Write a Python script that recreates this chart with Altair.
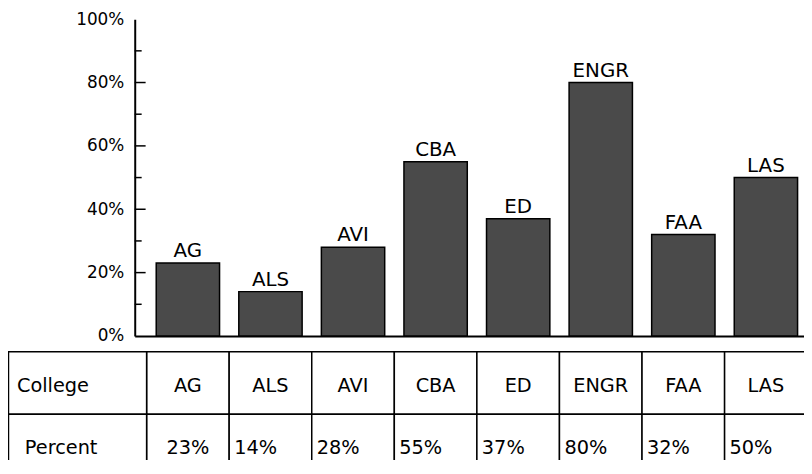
import altair as alt
import pandas as pd

# ---- data ----
colleges = ["AG", "ALS", "AVI", "CBA", "ED", "ENGR", "FAA", "LAS"]
percent = [23, 14, 28, 55, 37, 80, 32, 50]
row_names = ["College", "Percent"]
y_label_values = [0, 20, 40, 60, 80, 100]
major_ticks = [20, 40, 60, 80]
minor_ticks = [10, 30, 50, 70, 90]

FONT = "DejaVu Sans"

bars_df = pd.DataFrame({"college": colleges, "pct": percent})
bars_df["pct_label"] = [f"{p}%" for p in percent]
hdr_df = pd.DataFrame({"row": row_names})
cells_df = pd.DataFrame([{"college": c, "row": r} for c in colleges for r in row_names])

# ---- scales ----
x_main = alt.Scale(domain=colleges, paddingInner=0.233, paddingOuter=0.169, align=0.77)
y_main = alt.Scale(domain=[0, 100], nice=False, zero=True)
x_tab = alt.Scale(domain=colleges, range=[12, 679.2], paddingInner=0, paddingOuter=0)
y_tab = alt.Scale(domain=row_names, range=[336, 462], paddingInner=0, paddingOuter=0)

y_axis = alt.Axis(title=None, values=y_label_values, labelExpr="datum.value + '%'",
                  ticks=False, tickSize=0, labelPadding=11, labelFont=FONT,
                  labelFontSize=17, labelColor="black", domainColor="black",
                  domainWidth=2, grid=False)
x_axis = alt.Axis(title=None, labels=False, ticks=False, tickSize=0,
                  domainColor="black", domainWidth=2, grid=False)

# ---- bar chart ----
base = alt.Chart(bars_df)
bars = base.mark_bar(fill="#4a4a4a", stroke="black", strokeWidth=1.5).encode(
    x=alt.X("college:N", scale=x_main, axis=x_axis),
    y=alt.Y("pct:Q", scale=y_main, axis=y_axis),
)
bar_labels = base.mark_text(baseline="alphabetic", dy=-6, font=FONT, fontSize=20,
                            color="black").encode(
    x=alt.X("college:N", scale=x_main, axis=x_axis),
    y=alt.Y("pct:Q", scale=y_main, axis=y_axis),
    text="college:N",
)
major = alt.Chart(pd.DataFrame({"pct": major_ticks})).mark_rule(
    color="black", strokeWidth=1.5).encode(
    y=alt.Y("pct:Q", scale=y_main, axis=y_axis), x=alt.value(0), x2=alt.value(11))
minor = alt.Chart(pd.DataFrame({"pct": minor_ticks})).mark_rule(
    color="black", strokeWidth=1.5).encode(
    y=alt.Y("pct:Q", scale=y_main, axis=y_axis), x=alt.value(0), x2=alt.value(7))

main = alt.layer(bars, bar_labels, major, minor)

# ---- data table ----
cells = alt.Chart(cells_df).mark_rect(fill="white", stroke="black", strokeWidth=1.5).encode(
    x=alt.X("college:N", scale=x_tab, axis=None),
    y=alt.Y("row:N", scale=y_tab, axis=None),
)
hdr_cells = alt.Chart(hdr_df).mark_rect(fill="white", stroke="black", strokeWidth=1.5).encode(
    x=alt.value(-127.5), x2=alt.value(12),
    y=alt.Y("row:N", scale=y_tab, axis=None),
)
txt = dict(baseline="middle", dy=3, font=FONT, fontSize=19.5, color="black")
hdr_college = alt.Chart(hdr_df).transform_filter("datum.row == 'College'").mark_text(
    align="left", **txt).encode(
    x=alt.value(-119), y=alt.Y("row:N", scale=y_tab, axis=None), text="row:N")
hdr_percent = alt.Chart(hdr_df).transform_filter("datum.row == 'Percent'").mark_text(
    align="left", **txt).encode(
    x=alt.value(-111), y=alt.Y("row:N", scale=y_tab, axis=None), text="row:N")
col_text = base.transform_calculate(row="'College'").mark_text(align="center", **txt).encode(
    x=alt.X("college:N", scale=x_tab, axis=None),
    y=alt.Y("row:N", scale=y_tab, axis=None),
    text="college:N",
)
pct_text = base.transform_calculate(row="'Percent'").transform_filter(
    "datum.college != 'AG'").mark_text(align="left", dx=5, **txt).encode(
    x=alt.X("college:N", scale=x_tab, bandPosition=0, axis=None),
    y=alt.Y("row:N", scale=y_tab, axis=None),
    text="pct_label:N",
)
pct_ag = base.transform_calculate(row="'Percent'").transform_filter(
    "datum.college == 'AG'").mark_text(align="center", **txt).encode(
    x=alt.X("college:N", scale=x_tab, axis=None),
    y=alt.Y("row:N", scale=y_tab, axis=None),
    text="pct_label:N",
)
table = alt.layer(cells, hdr_cells, hdr_college, hdr_percent, col_text, pct_text, pct_ag)

chart = alt.layer(main, table).resolve_scale(x="independent", y="independent").properties(
    width=676, height=320,
    autosize=alt.AutoSizeParams(type="none"),
    padding={"left": 128, "top": 9, "right": 0, "bottom": 123},
    background="white",
).configure_view(stroke=None)

chart.save("out.html", embed_options={"renderer": "svg", "actions": False})
